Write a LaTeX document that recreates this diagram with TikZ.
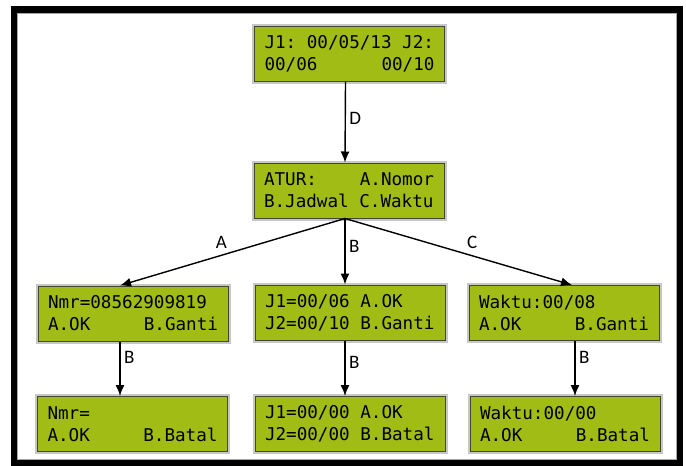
\documentclass[tikz,border=0pt]{standalone}
\usepackage{fontspec}
\setmainfont{Carlito}
\setmonofont{DejaVu Sans Mono}
\usepackage{tikz}
\usetikzlibrary{arrows.meta,positioning}
\definecolor{lcdgreen}{RGB}{162,188,22}
\definecolor{lcdedge}{RGB}{70,70,45}
\newcommand\gap[0]{\hskip 0pt plus 1filll\relax}
\newcommand\blank[0]{\hphantom{0}}

\tikzset{
  lcdbox/.style={fill=lcdgreen, draw=lcdedge, line width=1pt,
    preaction={draw=black!22, line width=5pt},
    text width=170pt, inner xsep=10pt, minimum height=55pt, align=left,
    font=\ttfamily\fontsize{17.6}{22}\selectfont},
  link/.style={-{Latex[length=11pt,width=9pt]}, line width=1.4pt},
  lbl/.style={font=\fontsize{19}{19}\selectfont}
}

\begin{document}
\begin{tikzpicture}[x=1pt,y=-1pt]
                \useasboundingbox (0,0) rectangle (686,466);
                % frame
                \draw[line width=6.5pt] (14,9.5) rectangle (680,463);
                \draw[black!35, line width=1pt] (17.75,13.25) rectangle (676.25,459.25);
                % screens
                \node[lcdbox] (jadwal) at (349.5,54) {J1:\blank00/05/13\blank J2:\\00/06\gap 00/10};
                \node[lcdbox] (atur) at (349,190.5) {ATUR:\gap A.Nomor\\B.Jadwal\blank C.Waktu};
                \node[lcdbox] (nomor) at (133,313.5) {Nmr=08562909819\\A.OK\gap B.Ganti};
                \node[lcdbox] (jam) at (350,312.5) {J1=00/06\blank A.OK\\J2=00/10\blank B.Ganti};
                \node[lcdbox] (waktu) at (564,313) {Waktu:00/08\\A.OK\gap B.Ganti};
                \node[lcdbox] (nomorB) at (132.5,424) {Nmr=\\A.OK\gap B.Batal};
                \node[lcdbox] (jamB) at (350,424) {J1=00/00\blank A.OK\\J2=00/00\blank B.Batal};
                \node[lcdbox] (waktuB) at (565,424) {Waktu:00/00\\A.OK\gap B.Batal};
                % keys
                \draw[link] ([xshift=-4pt]jadwal.south) -- node[lbl,pos=.45,right] {D} ([xshift=-4pt]atur.north);
                \draw[link] ([xshift=-4pt]atur.south) -- node[lbl,pos=.55,above=3pt] {A} ([xshift=-13pt]nomor.north);
                \draw[link] ([xshift=-4pt]atur.south) -- node[lbl,pos=.42,right] {B} ([xshift=-5pt]jam.north);
                \draw[link] ([xshift=-4pt]atur.south) -- node[lbl,pos=.56,above=3pt] {C} ([xshift=8pt]waktu.north);
                \draw[link] ([xshift=-13pt]nomor.south) -- node[lbl,pos=.3,right] {B} ([xshift=-12.5pt]nomorB.north);
                \draw[link] ([xshift=-5pt]jam.south) -- node[lbl,pos=.4,right] {B} ([xshift=-5pt]jamB.north);
                \draw[link] ([xshift=11pt]waktu.south) -- node[lbl,pos=.3,right] {B} ([xshift=10pt]waktuB.north);
\end{tikzpicture}
\end{document}
